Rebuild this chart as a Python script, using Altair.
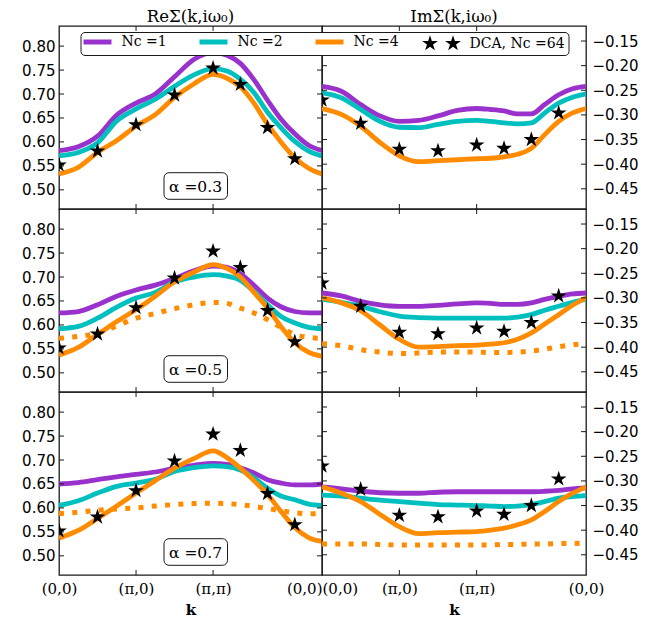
import math
import altair as alt
import pandas as pd

# ---------------- data ----------------
K_END = 3.414
K_GRID = [0, 0.25, 0.5, 0.75, 1, 1.25, 1.5, 1.75, 2, 2.18, 2.354, 2.53, 2.707, 2.88, 3.061, 3.24, 3.414]
K_STAR = [0, 0.5, 1, 1.5, 2, 2.354, 2.707, 3.061]

ALPHAS = ["0.3", "0.5", "0.7"]
SERIES = ["Nc =1", "Nc =2", "Nc =4", "DCA, Nc =64"]
COLORS = ["#9932CC", "#00BFBF", "#FF8C00", "#000000"]

RE_DCA = [0.552, 0.581, 0.636, 0.698, 0.754, 0.720, 0.630, 0.565]
IM_DCA = [-0.270, -0.317, -0.370, -0.373, -0.361, -0.368, -0.350, -0.296]

RE_NC1 = {
    "0.3": [0.582, 0.590, 0.612, 0.656, 0.681, 0.700, 0.736, 0.772, 0.787, 0.781, 0.764, 0.730, 0.687, 0.648, 0.617, 0.593, 0.582],
    "0.5": [0.625, 0.628, 0.642, 0.660, 0.673, 0.683, 0.697, 0.713, 0.723, 0.720, 0.707, 0.683, 0.656, 0.638, 0.628, 0.625, 0.625],
    "0.7": [0.650, 0.653, 0.659, 0.665, 0.670, 0.675, 0.683, 0.689, 0.693, 0.691, 0.684, 0.673, 0.659, 0.652, 0.648, 0.648, 0.650],
}
RE_NC2 = {
    "0.3": [0.571, 0.578, 0.598, 0.644, 0.669, 0.689, 0.716, 0.740, 0.753, 0.748, 0.731, 0.703, 0.662, 0.630, 0.601, 0.581, 0.571],
    "0.5": [0.592, 0.597, 0.614, 0.637, 0.656, 0.668, 0.690, 0.700, 0.705, 0.702, 0.693, 0.670, 0.642, 0.618, 0.604, 0.595, 0.592],
    "0.7": [0.605, 0.615, 0.631, 0.645, 0.652, 0.660, 0.676, 0.684, 0.688, 0.686, 0.679, 0.663, 0.641, 0.625, 0.617, 0.608, 0.605],
}
RE_NC4 = {
    "0.3": [0.533, 0.547, 0.578, 0.603, 0.633, 0.657, 0.693, 0.721, 0.741, 0.733, 0.715, 0.681, 0.637, 0.600, 0.567, 0.545, 0.533],
    "0.5": [0.537, 0.553, 0.580, 0.607, 0.632, 0.660, 0.690, 0.710, 0.726, 0.718, 0.700, 0.668, 0.635, 0.597, 0.563, 0.543, 0.535],
    "0.7": [0.537, 0.553, 0.578, 0.604, 0.631, 0.657, 0.683, 0.703, 0.719, 0.705, 0.683, 0.657, 0.628, 0.593, 0.559, 0.538, 0.530],
}
RE_DOTTED = {
    "0.5": [0.572, 0.576, 0.583, 0.598, 0.614, 0.624, 0.634, 0.642, 0.647, 0.645, 0.635, 0.625, 0.611, 0.595, 0.580, 0.574, 0.572],
    "0.7": [0.588, 0.591, 0.595, 0.598, 0.600, 0.604, 0.607, 0.609, 0.610, 0.609, 0.607, 0.603, 0.599, 0.594, 0.590, 0.588, 0.588],
}

IM_NC1 = {
    "0.3": [-0.242, -0.252, -0.279, -0.302, -0.313, -0.311, -0.302, -0.291, -0.287, -0.289, -0.292, -0.298, -0.298, -0.279, -0.259, -0.247, -0.242],
    "0.5": [-0.290, -0.296, -0.307, -0.314, -0.317, -0.317, -0.315, -0.312, -0.310, -0.311, -0.313, -0.313, -0.310, -0.303, -0.297, -0.292, -0.290],
    "0.7": [-0.312, -0.316, -0.321, -0.324, -0.325, -0.325, -0.323, -0.322, -0.322, -0.322, -0.322, -0.322, -0.322, -0.321, -0.319, -0.316, -0.314],
}
IM_NC2 = {
    "0.3": [-0.255, -0.265, -0.289, -0.313, -0.325, -0.326, -0.319, -0.313, -0.311, -0.313, -0.316, -0.318, -0.316, -0.296, -0.276, -0.264, -0.257],
    "0.5": [-0.303, -0.309, -0.317, -0.328, -0.337, -0.340, -0.341, -0.341, -0.341, -0.341, -0.341, -0.339, -0.334, -0.325, -0.317, -0.309, -0.303],
    "0.7": [-0.329, -0.331, -0.335, -0.339, -0.342, -0.345, -0.348, -0.349, -0.350, -0.351, -0.352, -0.351, -0.348, -0.342, -0.335, -0.332, -0.330],
}
IM_NC4 = {
    "0.3": [-0.287, -0.299, -0.323, -0.356, -0.383, -0.395, -0.393, -0.391, -0.389, -0.388, -0.385, -0.380, -0.368, -0.340, -0.313, -0.296, -0.287],
    "0.5": [-0.300, -0.310, -0.326, -0.355, -0.384, -0.400, -0.399, -0.397, -0.396, -0.394, -0.391, -0.384, -0.371, -0.353, -0.334, -0.315, -0.300],
    "0.7": [-0.312, -0.325, -0.342, -0.368, -0.393, -0.407, -0.405, -0.404, -0.403, -0.400, -0.396, -0.389, -0.379, -0.362, -0.342, -0.325, -0.312],
}
IM_DOTTED = {
    "0.5": [-0.393, -0.397, -0.405, -0.410, -0.413, -0.412, -0.410, -0.410, -0.410, -0.411, -0.411, -0.410, -0.408, -0.404, -0.399, -0.395, -0.393],
    "0.7": [-0.428, -0.428, -0.428, -0.429, -0.430, -0.430, -0.430, -0.430, -0.430, -0.430, -0.429, -0.429, -0.428, -0.428, -0.427, -0.427, -0.426],
}

RE_TICKS = [0.50, 0.55, 0.60, 0.65, 0.70, 0.75, 0.80]
IM_TICKS = [-0.45, -0.40, -0.35, -0.30, -0.25, -0.20, -0.15]
X_TICKS = [0, 1, 2, 3.414]
X_LABELS = ["(0,0)", "(π,0)", "(π,π)", "(0,0)"]
TITLES = ["ReΣ(k,iω₀)", "ImΣ(k,iω₀)"]

# ---------------- styling ----------------
W_L, W_R, H = 263, 264, 183
RE_DOMAIN = [0.46, 0.842]
IM_DOMAIN = [-0.491, -0.1195]
FRAME = "#1a1a1a"
SANS = "DejaVu Sans"
SERIF = "DejaVu Serif"


def star_path(cx, R, ratio=0.381966):
    pts = []
    for i in range(10):
        a = math.radians(-90 + 36 * i)
        rad = R if i % 2 == 0 else R * ratio
        pts.append((cx + rad * math.cos(a), rad * math.sin(a)))
    return "M" + "L".join(f"{x:.3f},{y:.3f}" for x, y in pts) + "Z"


STAR = star_path(0, 1)
TWO_STARS = star_path(-0.85, 0.83) + star_path(1.45, 0.83)
LINE_SYM = "M-0.7,0L2.1,0"

is_dca = f"datum.value === '{SERIES[3]}'"
LEGEND = alt.Legend(
    orient="none", legendX=21.5, legendY=6, direction="horizontal", columns=4,
    title=None, symbolSize=400,
    symbolType={"expr": f"{is_dca} ? '{TWO_STARS}' : '{LINE_SYM}'"},
    symbolFillColor={"expr": f"{is_dca} ? 'black' : 'transparent'"},
    symbolStrokeWidth={"expr": f"{is_dca} ? 0 : 5"},
    labelFont=SERIF, labelFontSize=14, labelOffset=24, columnPadding=22,
    padding=3, strokeColor=FRAME, fillColor="white", cornerRadius=4,
    labelColor="black",
)

label_expr = (f"datum.value < 0.5 ? '{X_LABELS[0]}' : datum.value < 1.5 ? '{X_LABELS[1]}' : "
              f"datum.value < 2.5 ? '{X_LABELS[2]}' : '{X_LABELS[3]}'")


def panel(row, col):
    a = ALPHAS[row]
    if col == 0:
        lines = [RE_NC1[a], RE_NC2[a], RE_NC4[a]]
        dotted = RE_DOTTED.get(a)
        stars = RE_DCA
        domain, ticks, W, orient, lpad = RE_DOMAIN, RE_TICKS, W_L, "left", 4
    else:
        lines = [IM_NC1[a], IM_NC2[a], IM_NC4[a]]
        dotted = IM_DOTTED.get(a)
        stars = IM_DCA
        domain, ticks, W, orient, lpad = IM_DOMAIN, IM_TICKS, W_R, "right", 6

    if row == 2:
        align_test = "datum.value > 3" if col == 0 else "datum.value < 0.5"
        align_val = "right" if col == 0 else "left"
        xaxis = alt.Axis(values=X_TICKS, labelExpr=label_expr, ticks=False, domain=False, grid=False,
                         labelFont=SERIF, labelFontSize=15, labelPadding=6, labelColor="black",
                         labelAlign={"condition": {"test": align_test, "value": align_val}, "value": "center"},
                         title="k", titleFont=SERIF, titleFontWeight="bold", titleFontSize=15,
                         titlePadding=6, titleColor="black")
    else:
        xaxis = None
    yaxis = alt.Axis(orient=orient, values=ticks, format=".2f", ticks=False, domain=False, grid=False,
                     labelFont=SANS, labelFontSize=15, labelPadding=lpad, labelColor="black", title=None)

    x_enc = alt.X("k:Q", scale=alt.Scale(domain=[0, K_END], nice=False, zero=False), axis=xaxis)
    y_enc = alt.Y("v:Q", scale=alt.Scale(domain=domain, nice=False, zero=False), axis=yaxis)

    rows = []
    for s, vals in zip(SERIES[:3], lines):
        for k, v in zip(K_GRID, vals):
            rows.append({"k": k, "v": v, "series": s})
    df_lines = pd.DataFrame(rows)

    layers = [
        alt.Chart(df_lines).mark_line(strokeWidth=4.8, interpolate="monotone", clip=True).encode(
            x=x_enc, y=y_enc,
            color=alt.Color("series:N", scale=alt.Scale(domain=SERIES, range=COLORS), legend=LEGEND),
            order=alt.Order("k:Q"),
        )
    ]
    if dotted is not None:
        layers.append(
            alt.Chart(pd.DataFrame({"k": K_GRID, "v": dotted})).mark_line(
                color=COLORS[2], strokeWidth=5, strokeDash=[5, 8.3], interpolate="monotone", clip=True
            ).encode(x=x_enc, y=y_enc)
        )
    layers.append(
        alt.Chart(pd.DataFrame({"k": K_STAR, "v": stars})).mark_point(
            shape=STAR, size=272, filled=True, color="black", opacity=1, strokeWidth=0, clip=True
        ).encode(x=x_enc, y=y_enc)
    )
    yt = pd.DataFrame({"v": ticks})
    xt = pd.DataFrame({"k": X_TICKS[1:3]})
    layers += [
        alt.Chart(yt).mark_rule(color=FRAME, strokeWidth=1).encode(y=y_enc, x=alt.value(0), x2=alt.value(5)),
        alt.Chart(yt).mark_rule(color=FRAME, strokeWidth=1).encode(y=y_enc, x=alt.value(W - 5), x2=alt.value(W)),
        alt.Chart(xt).mark_rule(color=FRAME, strokeWidth=1).encode(x=x_enc, y=alt.value(0), y2=alt.value(5)),
        alt.Chart(xt).mark_rule(color=FRAME, strokeWidth=1).encode(x=x_enc, y=alt.value(H - 5), y2=alt.value(H)),
    ]
    if col == 0:
        lab = pd.DataFrame({"label": [f"α ={a}"]})
        layers += [
            alt.Chart(lab).mark_rect(fill="white", stroke=FRAME, strokeWidth=1, cornerRadius=5).encode(
                x=alt.value(105), x2=alt.value(168.5), y=alt.value(146.7), y2=alt.value(173.3)),
            alt.Chart(lab).mark_text(font=SERIF, fontSize=15.5, align="center", baseline="middle",
                                     color="black").encode(
                text="label:N", x=alt.value(136.5), y=alt.value(160.5)),
        ]
    ch = alt.layer(*layers).properties(width=W, height=H)
    if row == 0:
        ch = ch.properties(title=alt.TitleParams(TITLES[col], font=SERIF, fontSize=16.5, fontWeight="normal",
                                                 offset=0, color="black"))
    return ch


panels = [panel(r, c) for r in range(3) for c in range(2)]
chart = (
    alt.concat(*panels, columns=2, spacing=0, bounds="flush")
    .resolve_scale(color="shared")
    .properties(padding={"left": 12, "top": 0, "right": 5, "bottom": 5})
    .configure_view(stroke=FRAME, strokeWidth=1.3)
)
chart.save("out.html", embed_options={"renderer": "svg", "actions": False})
